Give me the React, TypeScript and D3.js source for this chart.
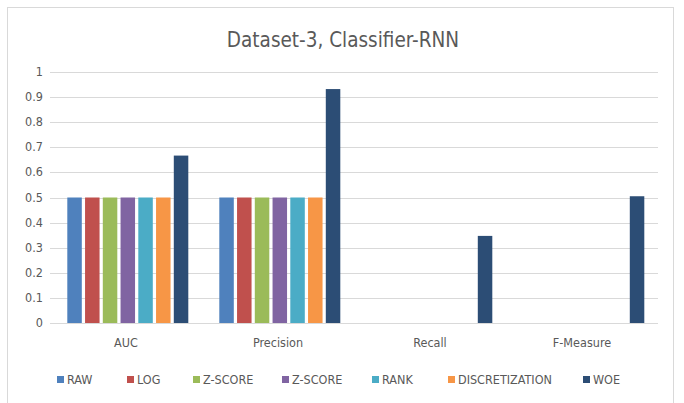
import React, { useEffect, useRef } from "react";
import * as d3 from "d3";

const categories = ["AUC", "Precision", "Recall", "F-Measure"];
const seriesNames = ["RAW", "LOG", "Z-SCORE", "Z-SCORE ", "RANK", "DISCRETIZATION", "WOE"];
const seriesColors = ["#4F81BD", "#C0504D", "#9BBB59", "#8064A2", "#4BACC6", "#F79646", "#2C4D75"];

const raw = [0.5, 0.5, 0, 0];
const log = [0.5, 0.5, 0, 0];
const zscore = [0.5, 0.5, 0, 0];
const zscore2 = [0.5, 0.5, 0, 0];
const rank = [0.5, 0.5, 0, 0];
const discretization = [0.5, 0.5, 0, 0];
const woe = [0.667, 0.932, 0.347, 0.505];

const yTicks = [0, 0.1, 0.2, 0.3, 0.4, 0.5, 0.6, 0.7, 0.8, 0.9, 1];

const FONT = "'Liberation Sans Narrow', 'DejaVu Sans Condensed', 'Open Sans', sans-serif";

export default function App() {
  const ref = useRef<SVGSVGElement>(null);

  useEffect(() => {
    const values = [raw, log, zscore, zscore2, rank, discretization, woe];
    const data = categories.map((c, i) => ({
      cat: c,
      vals: seriesNames.map((s, j) => ({ key: s, value: values[j][i], color: seriesColors[j] })),
    }));

    const left = 50, right = 658, top = 72, bottom = 323;

    const x0 = d3.scaleBand().domain(categories).range([left, right]).padding(0);
    const x1 = d3.scaleBand()
      .domain(seriesNames)
      .range([17.3, 17.3 + 121])
      .paddingInner(0.183)
      .paddingOuter(0);
    const y = d3.scaleLinear().domain([0, 1]).range([bottom, top]);

    const svg = d3.select(ref.current);
    svg.selectAll("*").remove();

    svg.append("rect")
      .attr("x", 7.5).attr("y", 7.5)
      .attr("width", 666).attr("height", 400)
      .attr("fill", "#fff").attr("stroke", "#D9D9D9");

    svg.append("text")
      .attr("x", 343).attr("y", 47)
      .attr("text-anchor", "middle")
      .style("font-family", FONT).style("font-size", "20.5px")
      .attr("fill", "#595959")
      .text("Dataset-3, Classifier-RNN");

    // grid
    svg.append("g").selectAll("line")
      .data(yTicks)
      .enter()
      .append("line")
      .attr("x1", left).attr("x2", right)
      .attr("y1", d => Math.round(y(d)) + 0.5)
      .attr("y2", d => Math.round(y(d)) + 0.5)
      .attr("stroke", "#D9D9D9").attr("stroke-width", 1);

    svg.append("g").selectAll("text")
      .data(yTicks)
      .enter()
      .append("text")
      .attr("x", 43)
      .attr("y", d => y(d) + 4)
      .attr("text-anchor", "end")
      .style("font-family", FONT).style("font-size", "12.5px")
      .attr("fill", "#595959")
      .text(d => String(d));

    const groups = svg.append("g").selectAll("g")
      .data(data)
      .enter()
      .append("g")
      .attr("transform", d => `translate(${x0(d.cat)},0)`);

    groups.selectAll("rect")
      .data(d => d.vals)
      .enter()
      .append("rect")
      .attr("x", d => x1(d.key))
      .attr("y", d => y(d.value))
      .attr("width", x1.bandwidth())
      .attr("height", d => y(0) - y(d.value))
      .attr("fill", d => d.color);

    svg.append("g").selectAll("text")
      .data(categories)
      .enter()
      .append("text")
      .attr("x", d => x0(d) + x0.bandwidth() / 2)
      .attr("y", 347)
      .attr("text-anchor", "middle")
      .style("font-family", FONT).style("font-size", "12.5px")
      .attr("fill", "#595959")
      .text(d => d);

    // legend
    const legendX = [57, 127, 193, 282, 372, 448, 583];
    const leg = svg.append("g").selectAll("g")
      .data(seriesNames)
      .enter()
      .append("g")
      .attr("transform", (d, i) => `translate(${legendX[i]},380)`);
    leg.append("rect")
      .attr("x", 0).attr("y", -4)
      .attr("width", 7).attr("height", 7)
      .attr("fill", (d, i) => seriesColors[i]);
    leg.append("text")
      .attr("x", 10).attr("y", 4)
      .style("font-family", FONT).style("font-size", "12.5px")
      .attr("fill", "#595959")
      .text(d => d.trim());
  }, []);

  return (
    <svg ref={ref} width={684} height={403} style={{ position: "absolute", left: 0, top: 0 }} />
  );
}
